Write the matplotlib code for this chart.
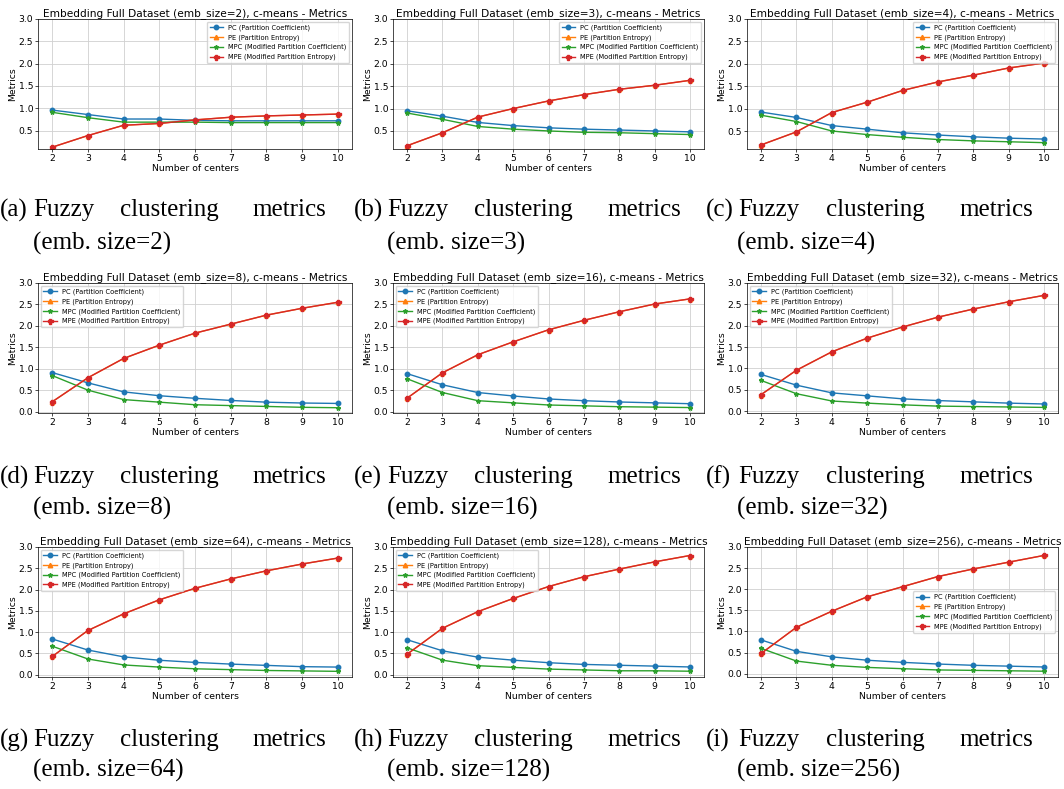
import matplotlib
matplotlib.use("Agg")
import matplotlib.pyplot as plt
from matplotlib.ticker import MultipleLocator

centers = [2, 3, 4, 5, 6, 7, 8, 9, 10]
emb_sizes = [2, 3, 4, 8, 16, 32, 64, 128, 256]
panel_letters = ["a", "b", "c", "d", "e", "f", "g", "h", "i"]

pc_2 = [0.96, 0.86, 0.76, 0.76, 0.73, 0.72, 0.72, 0.72, 0.72]
mpc_2 = [0.91, 0.79, 0.69, 0.69, 0.69, 0.68, 0.68, 0.68, 0.68]
mpe_2 = [0.13, 0.39, 0.62, 0.66, 0.74, 0.80, 0.83, 0.85, 0.87]

pc_3 = [0.95, 0.83, 0.69, 0.62, 0.57, 0.54, 0.52, 0.50, 0.48]
mpc_3 = [0.90, 0.76, 0.60, 0.54, 0.50, 0.47, 0.46, 0.44, 0.42]
mpe_3 = [0.17, 0.46, 0.81, 1.00, 1.17, 1.31, 1.43, 1.52, 1.63]

pc_4 = [0.93, 0.81, 0.63, 0.55, 0.47, 0.42, 0.38, 0.35, 0.33]
mpc_4 = [0.86, 0.72, 0.51, 0.43, 0.37, 0.32, 0.29, 0.27, 0.25]
mpe_4 = [0.20, 0.49, 0.92, 1.15, 1.41, 1.60, 1.75, 1.91, 2.02]

pc_8 = [0.91, 0.67, 0.46, 0.37, 0.31, 0.26, 0.22, 0.20, 0.19]
mpc_8 = [0.84, 0.50, 0.28, 0.22, 0.16, 0.14, 0.12, 0.10, 0.09]
mpe_8 = [0.23, 0.79, 1.24, 1.55, 1.83, 2.04, 2.25, 2.41, 2.55]

pc_16 = [0.89, 0.63, 0.45, 0.37, 0.30, 0.26, 0.23, 0.21, 0.19]
mpc_16 = [0.77, 0.45, 0.26, 0.21, 0.16, 0.14, 0.12, 0.11, 0.10]
mpe_16 = [0.32, 0.91, 1.33, 1.63, 1.91, 2.13, 2.33, 2.51, 2.63]

pc_32 = [0.86, 0.61, 0.43, 0.36, 0.29, 0.25, 0.22, 0.19, 0.17]
mpc_32 = [0.72, 0.41, 0.24, 0.19, 0.15, 0.12, 0.11, 0.10, 0.09]
mpe_32 = [0.39, 0.96, 1.39, 1.71, 1.97, 2.20, 2.39, 2.56, 2.71]

pc_64 = [0.84, 0.58, 0.42, 0.34, 0.29, 0.25, 0.22, 0.19, 0.18]
mpc_64 = [0.67, 0.37, 0.23, 0.18, 0.14, 0.12, 0.10, 0.09, 0.08]
mpe_64 = [0.43, 1.04, 1.43, 1.76, 2.03, 2.25, 2.44, 2.60, 2.74]

pc_128 = [0.82, 0.56, 0.41, 0.34, 0.28, 0.24, 0.22, 0.20, 0.18]
mpc_128 = [0.63, 0.34, 0.21, 0.17, 0.13, 0.11, 0.09, 0.09, 0.08]
mpe_128 = [0.48, 1.09, 1.48, 1.79, 2.07, 2.30, 2.48, 2.65, 2.80]

pc_256 = [0.80, 0.53, 0.40, 0.32, 0.27, 0.23, 0.20, 0.18, 0.16]
mpc_256 = [0.60, 0.30, 0.20, 0.15, 0.12, 0.09, 0.08, 0.07, 0.06]
mpe_256 = [0.48, 1.10, 1.48, 1.82, 2.06, 2.30, 2.48, 2.64, 2.80]

# PE coincides with MPE (hidden beneath it in the original)
pc_all = [pc_2, pc_3, pc_4, pc_8, pc_16, pc_32, pc_64, pc_128, pc_256]
mpc_all = [mpc_2, mpc_3, mpc_4, mpc_8, mpc_16, mpc_32, mpc_64, mpc_128, mpc_256]
mpe_all = [mpe_2, mpe_3, mpe_4, mpe_8, mpe_16, mpe_32, mpe_64, mpe_128, mpe_256]
pe_all = [list(v) for v in mpe_all]

series_labels = ["PC (Partition Coefficient)", "PE (Partition Entropy)",
                 "MPC (Modified Partition Coefficient)", "MPE (Modified Partition Entropy)"]
legend_locs = ["upper right", "upper right", "upper right",
               "upper left", "upper left", "upper left",
               "upper left", "upper left", "center right"]

W, H = 1064, 789
fig = plt.figure(figsize=(W / 100, H / 100), dpi=100)

col_left = [38, 393, 747]
col_width = [314, 311, 311]
row_top = [19, 283, 547]
ax_h = 130

# caption word positions (pixels): (label_x, fuzzy_x, clustering_x, metrics_x, line2_x)
cap_cols = [(0, 33, 120, 252, 33), (354, 387, 474, 607, 387), (706, 738, 826, 959, 737)]
cap_rows = [(210, 243), (477, 508), (740, 770)]

tick_fs = 6.7
for k in range(9):
    r, c = divmod(k, 3)
    left = col_left[c] / W
    bottom = 1 - (row_top[r] + ax_h) / H
    ax = fig.add_axes([left, bottom, col_width[c] / W, ax_h / H])
    ax.plot(centers, pc_all[k], marker="o", color="#1f77b4", lw=1.0, ms=3.2, label=series_labels[0])
    ax.plot(centers, pe_all[k], marker="^", color="#ff7f0e", lw=1.0, ms=3.2, label=series_labels[1])
    ax.plot(centers, mpc_all[k], marker="*", color="#2ca02c", lw=1.0, ms=3.2, label=series_labels[2])
    ax.plot(centers, mpe_all[k], marker="P", color="#d62728", lw=1.0, ms=3.6, label=series_labels[3])
    ax.set_xticks(centers)
    ax.yaxis.set_major_locator(MultipleLocator(0.5))
    ax.set_ylim(top=3.0)
    ax.grid(True, color="#d0d0d0", lw=0.6)
    ax.tick_params(labelsize=tick_fs, length=2, width=0.5, pad=1.5)
    for s in ax.spines.values():
        s.set_linewidth(0.5)
    title = ax.set_title(f"Embedding Full Dataset (emb_size={emb_sizes[k]}), c-means - Metrics",
                         fontsize=7.6, pad=2)
    ax.set_xlabel("Number of centers", fontsize=tick_fs, labelpad=1)
    ax.set_ylabel("Metrics", fontsize=tick_fs, labelpad=1)
    ax.legend(loc=legend_locs[k], fontsize=4.8, framealpha=0.8, borderpad=0.4,
              labelspacing=0.5, handlelength=2.0, borderaxespad=0.4)

    lx, fx, cx, mx, l2x = cap_cols[c]
    y1, y2 = cap_rows[r]
    cfs = 18
    cfam = ["Liberation Serif", "DejaVu Serif"]
    for txt, xx in [(f"({panel_letters[k]})", lx), ("Fuzzy", fx), ("clustering", cx), ("metrics", mx)]:
        fig.text(xx / W, 1 - y1 / H, txt, fontsize=cfs, family=cfam, ha="left", va="center")
    fig.text(l2x / W, 1 - y2 / H, f"(emb. size={emb_sizes[k]})", fontsize=cfs, family=cfam,
             ha="left", va="center")

fig.savefig("out.png", dpi=100)
